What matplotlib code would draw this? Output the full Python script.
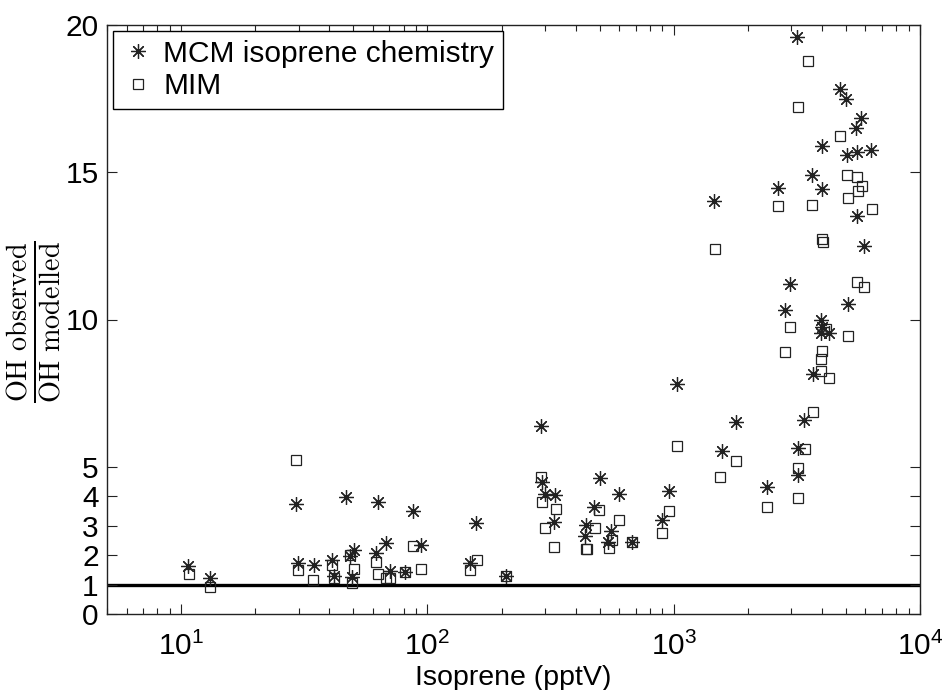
import matplotlib
matplotlib.use('Agg')
import matplotlib.pyplot as plt
from matplotlib.ticker import FixedLocator, NullLocator, LogLocator

plt.rcParams['font.family'] = ['Liberation Sans', 'DejaVu Sans']

# isoprene (pptV) and OH observed / OH modelled, MCM isoprene chemistry
mcm_iso = [10.7, 13.1, 29.2, 29.8, 34.5, 40.8, 41.6, 46.8, 48.7, 50.1, 49.5,
           63.1, 61.9, 67.6, 70.7, 80.8, 87.5, 94.6, 149, 158, 209,
           290, 292, 301, 330, 326, 502, 476, 442, 436, 556, 543, 601, 676,
           898, 955, 1036, 1462, 1567, 1790, 2383, 2655, 2825, 2972, 3169,
           3186, 3200, 3381, 3657, 3680, 3981, 4018, 3981, 4277, 4018, 4018,
           4721, 5025, 5070, 5104, 5483, 5567, 5567, 5780, 5904, 6350]
mcm_ratio = [1.63, 1.21, 3.72, 1.72, 1.66, 1.85, 1.29, 3.96, 1.97, 2.16, 1.24,
             3.79, 2.06, 2.40, 1.46, 1.41, 3.49, 2.34, 1.72, 3.10, 1.29,
             6.39, 4.47, 4.07, 4.04, 3.13, 4.61, 3.63, 3.03, 2.64, 2.82, 2.45, 4.07, 2.44,
             3.20, 4.19, 7.80, 14.02, 5.55, 6.51, 4.30, 14.48, 10.31, 11.22, 19.60,
             5.63, 4.72, 6.59, 14.91, 8.14, 10.00, 9.76, 9.53, 9.53, 15.89, 14.42,
             17.82, 17.48, 15.59, 10.53, 16.51, 15.70, 13.51, 16.83, 12.50, 15.76]

# MIM
mim_iso = [10.8, 13.1, 29.2, 29.9, 34.4, 40.8, 41.7, 48.7, 50.2, 49.5,
           62.1, 63.2, 67.8, 70.7, 80.8, 87.5, 94.5, 149, 159, 209,
           290, 292, 301, 332, 328, 442, 446, 478, 499, 548, 561, 601, 680,
           894, 955, 1036, 1472, 1535, 1790, 2383, 2653, 2825, 2978, 3186,
           3191, 3200, 3405, 3516, 3656, 3680, 3981, 3981, 4018, 4018, 4029,
           4142, 4263, 4721, 5056, 5104, 5104, 5524, 5567, 5601, 5796, 5929, 6365]
mim_ratio = [1.36, 0.91, 5.24, 1.48, 1.14, 1.66, 1.21, 1.99, 1.52, 1.04,
             1.78, 1.35, 1.21, 1.21, 1.41, 2.31, 1.52, 1.48, 1.83, 1.29,
             4.65, 3.81, 2.93, 3.57, 2.26, 2.20, 2.20, 2.91, 3.54, 2.23, 2.52, 3.19, 2.43,
             2.76, 3.50, 5.70, 12.39, 4.65, 5.21, 3.64, 13.85, 8.91, 9.76, 4.95,
             17.21, 3.95, 5.60, 18.79, 13.89, 6.87, 8.65, 8.26, 8.94, 12.72, 12.64,
             9.67, 8.00, 16.23, 14.91, 14.14, 9.44, 14.85, 11.27, 14.36, 14.54, 11.09, 13.74]

yticks = [0, 1, 2, 3, 4, 5, 10, 15, 20]

fig = plt.figure(figsize=(9.43, 6.9), dpi=100)
ax = fig.add_axes([107 / 943, 1 - 614 / 690, 813 / 943, 589 / 690])

ax.axhline(1, color='black', lw=2.4, zorder=1)
ax.plot(mcm_iso, mcm_ratio, ls='none', marker=(8, 2, 0), ms=10.5, mew=0.9,
        color='#222222', label='MCM isoprene chemistry')
ax.plot(mim_iso, mim_ratio, ls='none', marker='s', ms=6.5, mew=0.9,
        mfc='none', mec='#222222', label='MIM')

ax.set_xscale('log')
ax.set_xlim(5, 1e4)
ax.set_ylim(0, 20)
ax.yaxis.set_major_locator(FixedLocator(yticks))
ax.yaxis.set_minor_locator(NullLocator())
ax.xaxis.set_minor_locator(LogLocator(base=10, subs=range(2, 10)))

ax.tick_params(which='both', direction='in', top=True, right=True,
               labelsize=21.5, color='#222222', width=0.8)
ax.tick_params(which='major', length=7)
ax.tick_params(which='minor', length=4)
ax.tick_params(axis='x', which='major', pad=13)
ax.tick_params(axis='y', which='major', pad=6)
for s in ax.spines.values():
    s.set_linewidth(1.0)
    s.set_color('#222222')

ax.set_xlabel('Isoprene (pptV)', fontsize=20.5, labelpad=3)
ax.set_ylabel(r'$\frac{\mathrm{OH\ observed}}{\mathrm{OH\ modelled}}$',
              fontsize=29, math_fontfamily='cm')
ax.yaxis.set_label_coords(-0.053, 0.496)

leg = ax.legend(loc='upper left', bbox_to_anchor=(0.007, 0.99), borderaxespad=0,
                fancybox=False, edgecolor='black', framealpha=1, fontsize=21.5,
                handlelength=1.1, handletextpad=0.3, borderpad=0.3, labelspacing=0.15)
leg.get_frame().set_linewidth(1.0)

fig.savefig('out.png', dpi=100)
